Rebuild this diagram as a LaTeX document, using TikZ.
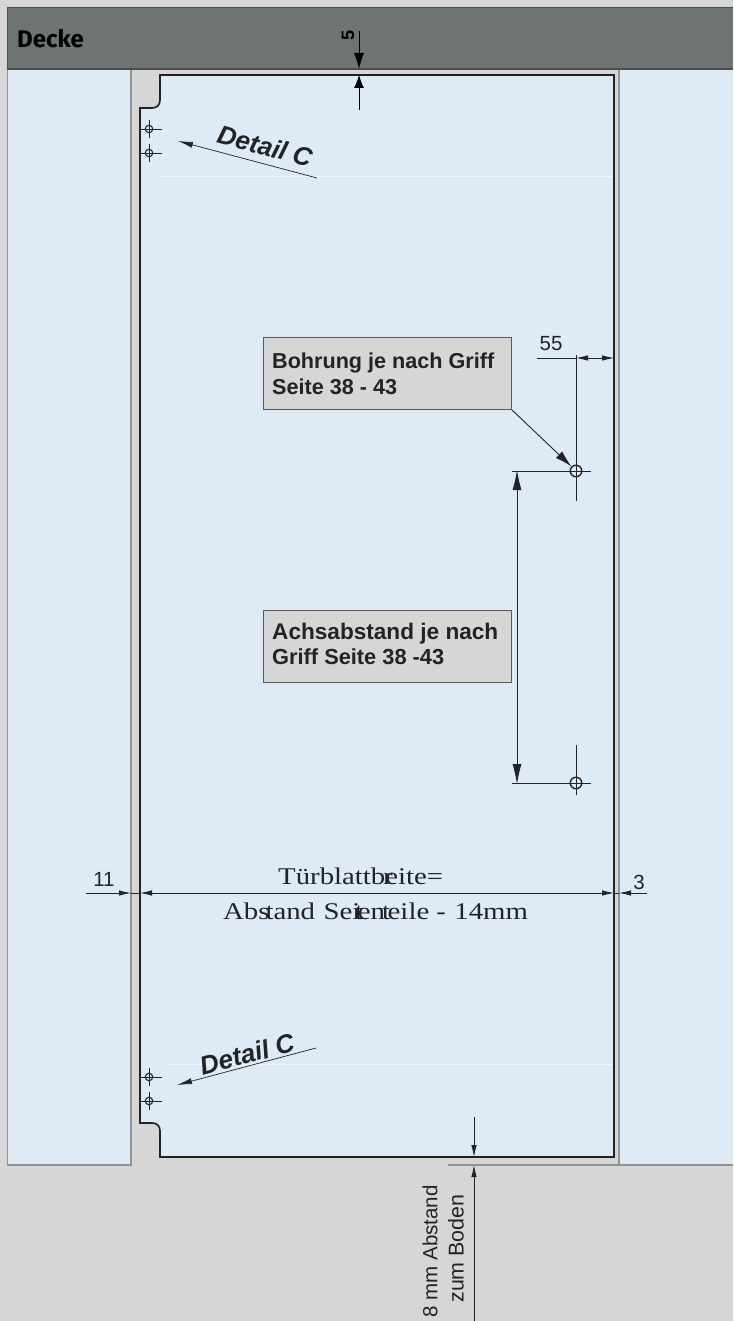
\documentclass[tikz,border=0pt]{standalone}
\usepackage{fontspec}
\setmainfont{Liberation Sans}
\newfontfamily\serifwide[FakeStretch=1.2]{Liberation Serif}
\newfontfamily\deckefont{Fira Sans}
\usetikzlibrary{arrows.meta}
\definecolor{bggray}{HTML}{D6D6D6}
\definecolor{paleblue}{HTML}{DEEAF6}
\definecolor{ceil}{HTML}{6E7470}
\definecolor{ink}{HTML}{222326}
\definecolor{wallline}{HTML}{8E9598}
\tikzset{
  dimline/.style={draw=ink,line width=0.8pt},
  thinarrow/.style={draw=ink,line width=0.8pt,-{Latex[length=12pt,width=5.5pt]}},
  detailarrow/.style={draw=ink,line width=0.7pt,-{Latex[length=15pt,width=6pt]}},
  bothtip/.style={draw=ink,line width=0.8pt,{Latex[length=12pt,width=5.5pt]}-{Latex[length=12pt,width=5.5pt]}},
  bigarrow/.style={draw=ink,line width=0.9pt,-{Latex[length=17pt,width=9pt]}},
  infobox/.style={draw=black!65,line width=1pt,fill=bggray,anchor=north west,minimum width=248pt,minimum height=72pt,inner sep=0pt},
  dimtext/.style={text=ink,inner sep=0pt,font=\fontsize{20.5}{24}\selectfont},
  boxtext/.style={text=ink,inner sep=0pt,anchor=base west},
  detailtext/.style={text=ink,inner sep=0pt,font=\fontsize{26}{30}\bfseries\itshape\selectfont},
  smallhole/.style={circle,draw=ink,line width=1.1pt,minimum size=7.5pt,inner sep=0pt},
  bighole/.style={circle,draw=ink,line width=1.4pt,minimum size=11.5pt,inner sep=0pt},
  widetext/.style={text=ink,inner sep=0pt,anchor=base west,font=\fontsize{24}{28}\serifwide\selectfont},
}
\begin{document}
\begin{tikzpicture}[x=1pt,y=-1pt]
\useasboundingbox (0,0) rectangle (733,1321);
\fill[bggray] (0,0) rectangle (733,1321);
% walls
\fill[paleblue] (7,69) rectangle (131,1165);
\draw[wallline,line width=0.6pt] (7,69) -- (7,1165);
\draw[wallline,line width=1.3pt] (7,1165) -- (131,1165) -- (131,69);
\fill[paleblue] (619,69) rectangle (733,1165);
\draw[wallline,line width=1.3pt] (619,69) -- (619,1165) -- (733,1165);
\draw[wallline,line width=1.3pt] (448,1165) -- (619,1165);
% ceiling
\fill[ceil] (7,8) rectangle (733,69);
\draw[black!70,line width=1pt] (7,69) -- (7,8) -- (733,8);
\draw[black!70,line width=1.2pt] (7,69) -- (733,69);
\node[anchor=base west,inner sep=0pt,text=black,font=\fontsize{24}{28}\deckefont\bfseries\selectfont] (decke) at (17,47.5) {Decke};
% door
\filldraw[fill=paleblue,draw=ink,line width=1.7pt]
  (160,75) -- (614,75) -- (614,1157) -- (160,1157) -- (160,1131)
  .. controls (160,1126) and (157,1123) .. (152,1123) -- (140,1123) -- (140,108) -- (152,108)
  .. controls (157,108) and (160,105) .. (160,100) -- cycle;
\draw[white!60!paleblue,line width=0.6pt] (160,176) -- (612,176);
\draw[white!60!paleblue,line width=0.6pt] (170,1064) -- (612,1064);
% fittings left
\foreach \n/\y in {a/129,b/153,c/1077,d/1101}{
  \node[smallhole] (hole\n) at (149,\y) {};
  \draw[ink,line width=0.8pt] (149,\y-9) -- (149,\y+9);
  \draw[ink,line width=0.8pt] (141,\y) -- (162,\y);
}
% detail C
\coordinate (dct) at (317,178);
\coordinate (dch) at (178,141);
\coordinate (dbt) at (316,1048);
\coordinate (dbh) at (177,1085);
\draw[detailarrow] (dct) -- (dch);
\draw[detailarrow] (dbt) -- (dbh);
\node[detailtext,rotate=-15] (dettop) at (265,146) {Detail C};
\node[detailtext,rotate=15] (detbot) at (247,1054) {Detail C};
% ceiling dim
\coordinate (fa) at (359,31);
\coordinate (fb) at (359,69);
\coordinate (fc) at (359,110);
\coordinate (fd) at (359,75);
\draw[draw=black,line width=0.8pt,-{Latex[length=16pt,width=10pt]}] (fa) -- (fb);
\draw[draw=black,line width=0.8pt,-{Latex[length=13pt,width=10pt]}] (fc) -- (fd);
\node[inner sep=0pt,rotate=90,text=black,font=\fontsize{18}{22}\bfseries\selectfont] (five) at (348,35) {5};
% boxes
\node[infobox] (boxa) at (263,337) {};
\node[boxtext,font=\fontsize{21.6}{24}\bfseries\selectfont] (boxal) at (272,368) {Bohrung je nach Griff};
\node[boxtext,font=\fontsize{21.6}{24}\bfseries\selectfont] (boxam) at (272,394) {Seite 38 - 43};
\node[infobox] (boxb) at (263,610) {};
\node[boxtext,font=\fontsize{22.6}{24}\bfseries\selectfont] (boxbl) at (272,639) {Achsabstand je nach};
\node[boxtext,font=\fontsize{21.8}{24}\bfseries\selectfont] (boxbm) at (272,664) {Griff Seite 38 -43};
% handle holes
\node[bighole] (hu) at (576,471) {};
\node[bighole] (hl) at (576,783) {};
\coordinate (h1a) at (512,471); \coordinate (h1b) at (591,471);
\coordinate (h2a) at (512,783); \coordinate (h2b) at (591,783);
\coordinate (v1a) at (576,355); \coordinate (v1b) at (576,501);
\coordinate (v2a) at (576,745); \coordinate (v2b) at (576,795);
\draw[dimline] (h1a) -- (h1b);
\draw[dimline] (h2a) -- (h2b);
\draw[dimline] (v1a) -- (v1b);
\draw[dimline] (v2a) -- (v2b);
\coordinate (aa) at (517,470); \coordinate (ab) at (517,784);
\draw[draw=ink,line width=0.9pt,{Latex[length=20pt,width=9pt]}-{Latex[length=20pt,width=9pt]}] (aa) -- (ab);
\draw[bigarrow] (boxa.south east) -- (hu.north west);
% 55
\coordinate (ff) at (537,358); \coordinate (fg) at (576,358); \coordinate (fh) at (614,358);
\draw[dimline] (ff) -- (fg);
\draw[bothtip] (fg) -- (fh);
\node[dimtext,anchor=base] (ffl) at (551,350) {55};
% width dim
\coordinate (w0) at (86,893); \coordinate (w1) at (131,893); \coordinate (w2) at (140,893);
\coordinate (w3) at (614,893); \coordinate (w4) at (619,893); \coordinate (w5) at (647,893);
\draw[thinarrow] (w0) -- (w1);
\draw[dimline] (w1) -- (w2);
\draw[bothtip] (w2) -- (w3);
\draw[dimline] (w3) -- (w4);
\draw[thinarrow] (w5) -- (w4);
\node[dimtext,anchor=base] (el) at (104,886) {11};
\node[dimtext,anchor=base] (th) at (639,889) {3};
\node[widetext] (wt1) at (278,884) {Türblattb\kern-0.1em r\kern-0.3em eite=};
\node[widetext] (wt2) at (223,919) {Abs\kern-0.17em tand\kern0.05em{} Sei\kern-0.22em t\kern-0.22em en\kern-0.12em t\kern-0.1em eile -\kern0.05em{} 14mm};
% floor dim
\coordinate (ga) at (474,1117); \coordinate (gb) at (474,1157);
\coordinate (gc) at (474,1321); \coordinate (gd) at (474,1165);
\draw[thinarrow] (ga) -- (gb);
\draw[thinarrow] (gc) -- (gd);
\node[dimtext,rotate=90,anchor=center] (gl1) at (430,1251.5) {8 mm Abstand};
\node[dimtext,rotate=90,anchor=center,font=\fontsize{21.4}{24}\selectfont] (gl2) at (456,1248.5) {zum Boden};
\end{tikzpicture}
\end{document}
